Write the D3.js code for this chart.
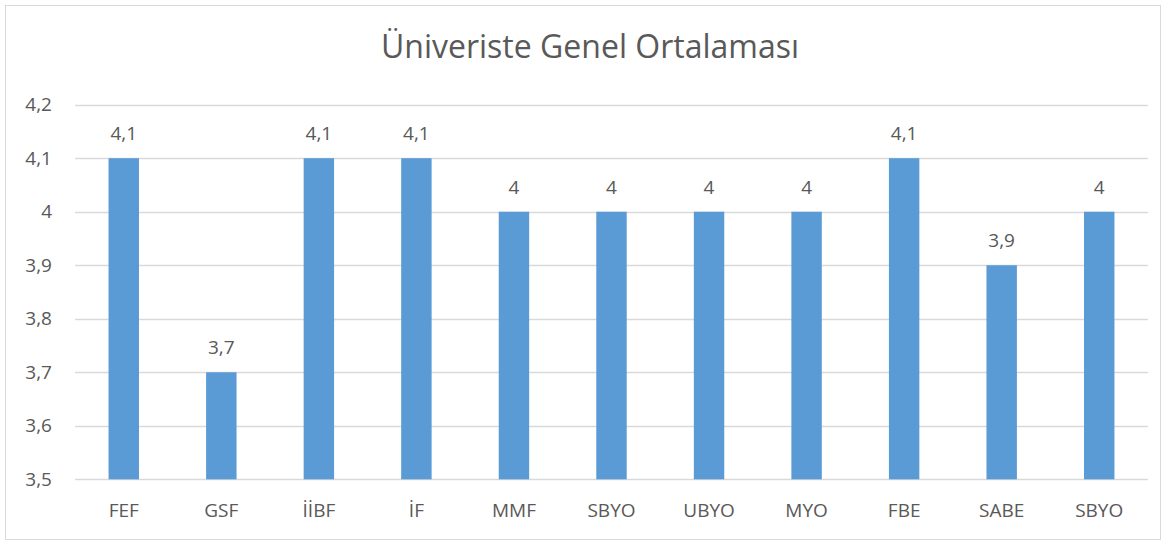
<!DOCTYPE html>
<html>
<head>
<meta charset="utf-8">
<script src="https://cdn.jsdelivr.net/npm/d3@7"></script>
<style>
  body { margin: 0; background: #fff; }
  svg text { font-family: "Open Sans", sans-serif; fill: #595959; }
</style>
</head>
<body>
<div id="chart"></div>
<script>
// Data
const categories = ["FEF", "GSF", "İİBF", "İF", "MMF", "SBYO", "UBYO", "MYO", "FBE", "SABE", "SBYO "];
const values = [4.1, 3.7, 4.1, 4.1, 4, 4, 4, 4, 4.1, 3.9, 4];
const yTicks = [3.5, 3.6, 3.7, 3.8, 3.9, 4.0, 4.1, 4.2];
const title = "Üniveriste Genel Ortalaması";

const fmt = v => String(+v.toFixed(1)).replace(".", ",");

// Dimensions
const width = 1167;
const height = 541;
const margin = { top: 104.7, right: 19, bottom: 61.7, left: 75 };

const svg = d3.select("#chart").append("svg")
  .attr("width", width)
  .attr("height", height);

// Chart border
svg.append("rect")
  .attr("x", 5.5)
  .attr("y", 5.5)
  .attr("width", 1155)
  .attr("height", 534)
  .attr("fill", "#fff")
  .attr("stroke", "#d9d9d9");

// Scales
const x = d3.scaleBand()
  .domain(categories)
  .range([margin.left, width - margin.right])
  .padding(0);

const y = d3.scaleLinear()
  .domain([3.5, 4.2])
  .range([height - margin.bottom, margin.top]);

// Gridlines
svg.append("g")
  .selectAll("line")
  .data(yTicks)
  .enter()
  .append("line")
    .attr("x1", margin.left)
    .attr("x2", width - margin.right)
    .attr("y1", d => Math.round(y(d)) + 0.5)
    .attr("y2", d => Math.round(y(d)) + 0.5)
    .attr("stroke", "#d9d9d9")
    .attr("stroke-width", 1.3);

// Y axis labels
const yAxis = d3.axisLeft(y).tickValues(yTicks).tickFormat(fmt).tickSize(0).tickPadding(23);
svg.append("g")
  .attr("transform", `translate(${margin.left}, 0)`)
  .call(yAxis)
  .call(g => g.select(".domain").remove())
  .selectAll("text")
    .attr("font-size", 19)
    .attr("fill", "#595959");

// Bars
const barW = x.bandwidth() * 0.312;
svg.append("g")
  .selectAll("rect")
  .data(values)
  .enter()
  .append("rect")
    .attr("x", (d, i) => x(categories[i]) + x.bandwidth() / 2 - barW / 2)
    .attr("y", d => y(d))
    .attr("width", barW)
    .attr("height", d => y(3.5) - y(d))
    .attr("fill", "#5b9bd5");

// Value labels
svg.append("g")
  .selectAll("text")
  .data(values)
  .enter()
  .append("text")
    .attr("x", (d, i) => x(categories[i]) + x.bandwidth() / 2)
    .attr("y", d => y(d) - 18)
    .attr("text-anchor", "middle")
    .attr("font-size", 19)
    .text(fmt);

// X axis labels
const xAxis = d3.axisBottom(x).tickSize(0).tickPadding(24).tickFormat(d => d.trim());
svg.append("g")
  .attr("transform", `translate(0, ${height - margin.bottom})`)
  .call(xAxis)
  .call(g => g.select(".domain").remove())
  .selectAll("text")
    .attr("font-size", 19)
    .attr("fill", "#595959");

// Title
svg.append("text")
  .attr("x", 590)
  .attr("y", 58)
  .attr("text-anchor", "middle")
  .attr("font-size", 32)
  .text(title);
</script>
</body>
</html>
